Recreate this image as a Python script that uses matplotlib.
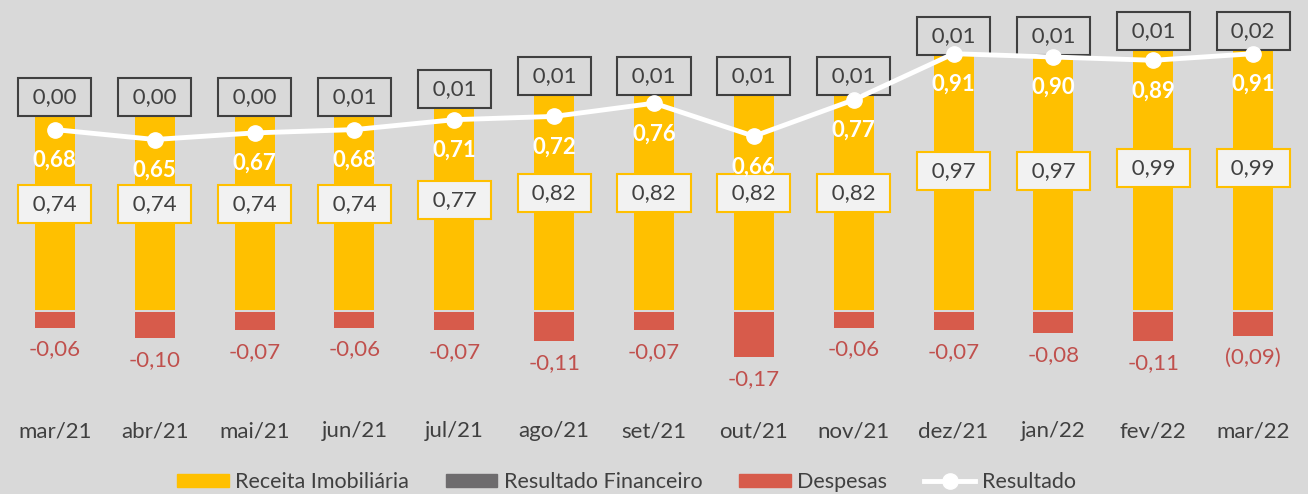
import matplotlib.pyplot as plt
from matplotlib.lines import Line2D
from matplotlib.patches import Patch

plt.rcParams['font.family'] = ['Lato', 'DejaVu Sans']

# data
months = ["mar/21", "abr/21", "mai/21", "jun/21", "jul/21", "ago/21", "set/21",
          "out/21", "nov/21", "dez/21", "jan/22", "fev/22", "mar/22"]
receita = [0.74, 0.74, 0.74, 0.74, 0.77, 0.82, 0.82, 0.82, 0.82, 0.97, 0.97, 0.99, 0.99]
financeiro = [0.00, 0.00, 0.00, 0.01, 0.01, 0.01, 0.01, 0.01, 0.01, 0.01, 0.01, 0.01, 0.02]
despesas = [-0.06, -0.10, -0.07, -0.06, -0.07, -0.11, -0.07, -0.17, -0.06, -0.07, -0.08, -0.11, -0.09]
despesas_labels = ["-0,06", "-0,10", "-0,07", "-0,06", "-0,07", "-0,11", "-0,07",
                   "-0,17", "-0,06", "-0,07", "-0,08", "-0,11", "(0,09)"]
resultado = [0.68, 0.65, 0.67, 0.68, 0.71, 0.72, 0.76, 0.66, 0.77, 0.91, 0.90, 0.89, 0.91]

BG = "#D9D9D9"
YELLOW = "#FFC000"
GRAY = "#6E6C6E"
RED = "#D75B4B"
TXT = "#404040"
FS = 16


def fmt(v):
    return ("%.2f" % v).replace(".", ",")


fig = plt.figure(figsize=(13.08, 4.94), dpi=100, facecolor=BG)
ax = fig.add_axes([0, 1 - 410 / 494, 1, 410 / 494])
ax.set_facecolor(BG)
x = list(range(len(months)))
w = 0.4

ax.bar(x, receita, w, color=YELLOW, zorder=2)
ax.bar(x, financeiro, w, bottom=receita, color=GRAY, zorder=2)
ax.bar(x, despesas, w, bottom=-0.007, color=RED, zorder=2)

ax.set_xlim(-0.55, len(months) - 0.45)
ax.set_ylim(-100 / 265, 310 / 265)
for s in ax.spines.values():
    s.set_visible(False)
ax.set_yticks([])
ax.set_xticks(x)
ax.set_xticklabels(months, fontsize=16, color=TXT)
ax.tick_params(axis="x", length=0, pad=8)

for i in x:
    ax.annotate(" " + fmt(financeiro[i]) + " ", (i, receita[i]), xytext=(0, 12),
                textcoords="offset points", ha="center", va="center",
                fontsize=FS, color=TXT, zorder=5,
                bbox=dict(boxstyle="square,pad=0.4", fc=BG, ec=TXT, lw=1.5))
    ax.annotate(" " + fmt(receita[i]) + " ", (i, receita[i] * 0.54), ha="center",
                va="center", fontsize=FS, color=TXT, zorder=5,
                bbox=dict(boxstyle="square,pad=0.4", fc="#F2F2F2", ec=YELLOW, lw=1.5))
    ax.annotate(despesas_labels[i], (i, despesas[i]), xytext=(0, -17),
                textcoords="offset points", ha="center", va="center",
                fontsize=FS, color="#C0504D", zorder=5)

ax2 = ax.twinx()
ax2.set_ylim(-56 / 330, 354 / 330)
ax2.axis("off")
ax2.plot(x, resultado, color="white", lw=3.5, marker="o", markersize=11, zorder=4)
for i in x:
    ax2.annotate(fmt(resultado[i]), (i, resultado[i]), xytext=(0, -22),
                 textcoords="offset points", ha="center", va="center",
                 fontsize=FS, fontweight="bold", color="white", zorder=6)

handles = [Patch(color=YELLOW), Patch(color=GRAY), Patch(color=RED),
           Line2D([0], [0], color="white", lw=3.5, marker="o", markersize=11)]
names = ["Receita Imobiliária", "Resultado Financeiro", "Despesas", "Resultado"]
fig.legend(handles, names, loc="center", bbox_to_anchor=(0.479, 0.024), ncol=4,
           frameon=False, fontsize=15.5, labelcolor=TXT, handlelength=2.4,
           handleheight=0.6, handletextpad=0.3, columnspacing=1.7)

fig.savefig("out.png", dpi=100, facecolor=BG)
